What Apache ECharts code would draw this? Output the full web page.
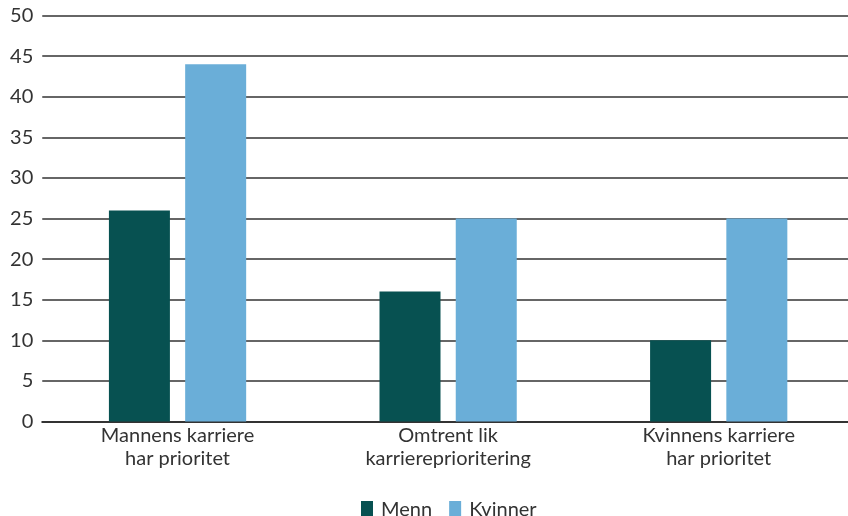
<!DOCTYPE html>
<html>
<head>
<meta charset="utf-8">
<script src="https://cdn.jsdelivr.net/npm/echarts@6/dist/echarts.min.js"></script>
<style>html,body{margin:0;padding:0;background:#fff;overflow:hidden}#c{width:854px;height:516px}</style>
</head>
<body>
<div id="c"></div>
<script>
const categories = ['Mannens karriere\nhar prioritet', 'Omtrent lik\nkarriereprioritering', 'Kvinnens karriere\nhar prioritet'];
const menn = [26, 16, 10];
const kvinner = [44, 25, 25];
const seriesNames = ['Menn', 'Kvinner'];

const chart = echarts.init(document.getElementById('c'), null, {renderer: 'canvas'});
const font = 'Lato, "Open Sans", sans-serif';
chart.setOption({
  animation: false,
  textStyle: {fontFamily: font},
  legend: {
    data: seriesNames,
    top: 500,
    left: 361,
    padding: 0,
    icon: 'rect',
    itemWidth: 12,
    itemHeight: 18,
    itemGap: 17,
    textStyle: {fontSize: 20, color: '#333', fontFamily: font, padding: [4, 0, 0, 3]}
  },
  grid: {left: 42.25, right: 0, top: 15.5, bottom: 94.5, containLabel: false},
  xAxis: {
    type: 'category',
    data: categories,
    axisLine: {show: true, lineStyle: {color: '#333', width: 2}},
    axisTick: {show: false},
    axisLabel: {fontSize: 20, color: '#333', lineHeight: 23, margin: 3, fontFamily: font}
  },
  yAxis: {
    type: 'value',
    min: 0, max: 50, interval: 5,
    axisLine: {show: false},
    axisTick: {show: false},
    axisLabel: {fontSize: 20, color: '#333', margin: 9, fontFamily: font},
    splitLine: {lineStyle: {color: '#333', width: 1.6}}
  },
  series: [
    {name: seriesNames[0], type: 'bar', data: menn, barWidth: 61, barGap: '25%', itemStyle: {color: '#075151'}},
    {name: seriesNames[1], type: 'bar', data: kvinner, barWidth: 61, itemStyle: {color: '#6aaed8'}}
  ]
});
</script>
</body>
</html>
